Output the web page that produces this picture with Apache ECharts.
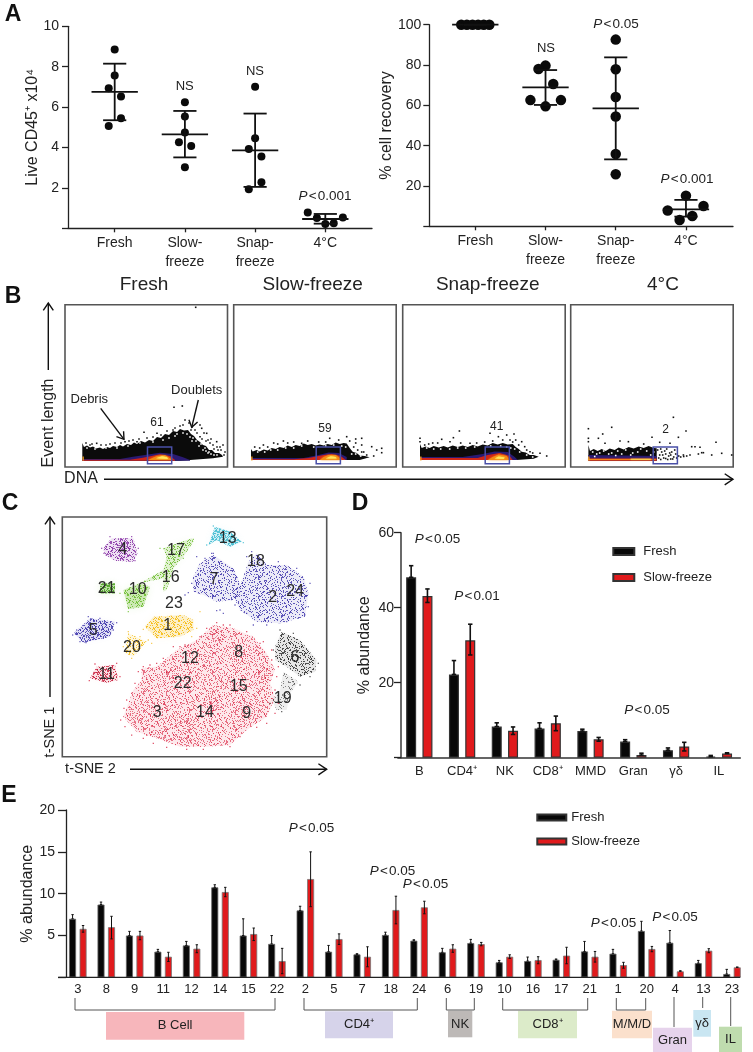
<!DOCTYPE html>
<html><head><meta charset="utf-8">
<style>html,body{margin:0;padding:0;background:#fff}#c{width:753px;height:1052px}</style>
<script src="https://cdn.jsdelivr.net/npm/echarts@6/dist/echarts.min.js"></script>
</head><body><div id="c"></div>
<script>
const FONT='"Liberation Sans",Arial,sans-serif', INK='#222';
// ---------- Panel A
const aCats=['Fresh','Slow-\nfreeze','Snap-\nfreeze','4°C'];
const liveDots=[[-0,8.85],[0,7.57],[-.085,6.93],[.09,6.52],[.09,5.45],[-.085,5.07],
 [1,6.24],[1,5.53],[1,4.74],[.915,4.26],[1.09,4.08],[1,3.02],
 [2,7.01],[2,4.46],[1.91,3.93],[2.09,3.55],[2.09,2.28],[1.91,1.93],
 [2.75,.78],[2.88,.51],[3.25,.54],[3,.21],[3.12,.25]];
const liveStats=[[0,6.75,5.35,8.15],[1,4.65,3.51,5.81],[2,3.86,2.05,5.68],[3,.46,.23,.71]];
const recDots=[[-.2,100],[-.12,100],[-.04,100],[.04,100],[.12,100],[.2,100],
 [1,79.7],[.9,78],[1.11,70.6],[.785,62.6],[1.22,62.6],[1,59.5],
 [2,92.6],[2,77.9],[2,64.1],[2,54.5],[2,35.9],[2,25.8],
 [3,15.2],[3.25,10.1],[2.74,7.8],[3.09,5.1],[2.91,3.1]];
const recStats=[[0,100,100,100],[1,68.9,60.2,77.5],[2,58.5,33.2,83.8],[3,8.4,4.8,13.1]];
// ---------- Panel B (event length vs DNA, read per box)
const flowTitles=['Fresh','Slow-freeze','Snap-freeze','4°C'];
const gateValues=[61,59,41,2];
const gate=[82.5,106.7,3.3,20];
const flowBlack=[
 [[17.3,24],[19,20],[22,21.5],[25,19.5],[28,20.5],[31,18.5],[35,19.5],[38,18],[42,20],[45,19],[48,21],[52,20],[55,22],[58,20.5],[62,23],[66,22],[69,24.5],[72,23],[76,26],[80,24.5],[84,27],[88,26],[92,30],[96,29],[100,33],[104,32],[108,36],[112,35],[115,38],[119,36.5],[123,37],[126,33],[129,31],[132,27],[135,25],[138,22],[141,21],[144,17],[147,17],[150,14],[154,14],[157,12],[158,10.3],[148,8.7],[135,7.7],[115,6.3],[17.3,6.3]],
 [[17.3,18],[19,15.5],[23,17],[26,15.5],[30,17.5],[34,16.5],[38,19],[42,18],[46,20],[50,19],[54,21.5],[58,20],[62,22],[66,21],[70,23.5],[74,22],[78,23],[82,21.5],[86,22.5],[90,21.5],[94,23],[98,22],[102,24.5],[106,23],[110,24],[113,23.5],[116,19],[119,15.3],[123,14],[126,11.5],[131,11],[136,9.7],[126,7],[113,7],[17.3,7]],
 [[17.3,23],[19,19],[23,20.5],[27,19],[31,21],[36,19.5],[41,21],[45,19.5],[50,21.5],[55,20],[60,21.5],[65,20],[70,22],[75,20.5],[80,22.5],[85,21.5],[90,24],[95,22.5],[100,24],[105,22.5],[110,23],[113,20],[116,18],[119,15.3],[123,14.5],[127,12],[131,12],[136,10.3],[131,8.3],[114,7],[17.3,7]],
 [[17.7,22],[19.3,16],[23,18],[27,16],[31,18],[35,16],[39,18.5],[44,17],[48,19.5],[53,17.5],[58,20],[63,18.5],[68,20.5],[73,19],[78,21],[83,19],[86,18.7],[86,6.3],[17.7,6.3]]];
const flowPurple=[
 [[17.3,6.3],[17.3,8],[55,8],[68,10.3],[95,14.3],[108,13],[118,9.7],[125,7],[125,6.3]],
 [[17.3,7],[17.3,9],[70,9],[85,12],[95,14.5],[105,14],[113,10],[113,7]],
 [[17.3,7],[17.3,10],[60,10],[80,13],[92,15.5],[105,15],[112,10],[115,7]],
 [[17.7,6.3],[17.7,12],[86,11],[86,6.3]]];
const flowRed=[
 [[17.3,6.3],[17.3,7.2],[65,7.2],[78,9.3],[95,12.7],[105,11],[110,7],[110,6.3]],
 [[17.3,7],[17.3,7.8],[60,7.8],[75,9],[90,12],[98,13],[107,11],[112,7]],
 [[17.3,7],[17.3,9],[75,9],[85,12],[97,14],[107,11],[110,7]],
 [[17.7,6.3],[17.7,8.5],[86,8.5],[86,6.3]]];
const flowOrange=[
 [[83,7],[92,11],[100,11.7],[105,8.7],[107,7]],
 [[86,7],[90,10],[95,12],[102,12],[106,9],[108,7]],
 [[85,7],[90,10],[96,12.5],[104,11],[106,8],[106,7]],
 [[17.7,7],[17.7,8],[85,8],[85,7.2]]];
const flowYellow=[
 [[91,8.7],[97,10.7],[102,9.7],[103,8]],
 [[92,8.5],[97,10.7],[102,10],[103,8.5]],
 [[92,8.5],[96,10.5],[102,9.5],[101,8]],
 [[60,7.4],[60,8.2],[80,8.2],[80,7.4]]];
const flowDots=[
 [[130.7,159.7],[109,59.7],[117.3,61],[79,34.7],[120,47],[135,42],[127,40],[130,37],[136.7,38.7],[141.7,33.7],[143,27],[148,22],[153,17],[158,22],[160,15],[151.7,25.3],[145,24],[135,30.3],[108,37],[92,33.7],[72,25.3],[60,25.3],[45,23],[31.7,23.7],[25,22],[139,34],[146,28],[155,20],[118,42],[124,44],[21,24],[27,23],[36,22],[41,22],[50,24],[56,24],[64,26],[68,27],[74,28],[82,29],[88,30],[96,32],[102,36],[110,39],[115,41],[126,37],[132,34],[137,28],[141,26],[149,18],[152,20],[156,17],[159,12]],
 [[128,28.7],[122,28],[113,30.3],[96,28.7],[68,23.7],[49.7,26],[29.7,22],[148,18.7],[148,14.3],[143,17],[138,20.3],[128,22],[133,12],[122,24],[105,27],[85,25],[60,25],[40,24],[130,15],[140,11],[21,20],[26,19],[34,20],[44,23],[54,24],[74,26],[92,25],[116,26],[120,20],[124,17],[128,15]],
 [[56.7,36],[50.7,29.3],[17.3,28.7],[17.3,25.3],[39,27.7],[87.3,33.7],[95.7,30.3],[104,32],[111.3,33],[119,25.3],[107.3,27],[122,20.3],[127.3,15.3],[144,11],[137.3,13.7],[67.3,23.7],[47.3,25.3],[100,27],[113,27],[30,24],[90,26],[22,22],[26,23],[35,24],[58,24],[74,24],[82,25],[110,25],[116,22],[124,17],[130,14]],
 [[102.7,49.7],[17.7,38.3],[41,39.7],[32,33],[81.3,29.7],[107.7,29.7],[115.3,36],[89,24.7],[17.7,28.7],[17.7,25.3],[27.7,28.7],[34.3,23.7],[49.3,26],[57.7,25.3],[73,23],[99.3,23.7],[121,20.3],[129.3,19.7],[145.3,24.7],[132.7,14.3],[141,12],[151,13.7],[161,12],[112.7,12],[119.3,12],[127.7,13],[131,14.3],[124.3,20.3],
  [87,17],[89,12],[91,15],[93,9],[95,13],[96,18],[98,11],[100,8],[101,15],[103,10],[104,17],[105,13],[88,9],[90,18],[92,12],[94,16],[97,7.5],[99,14],[102,8],[106,9],[90,7.5],[95,8.5],[100,12],[108,11],[110,10],[113,10.5],[116,11]]];
const flowSpecks=[
 [[22,19],[30,18],[41,19],[52,19],[63,21],[75,24],[88,25],[112,33],[122,33],[128,29],[131,26],[136,23],[140,19],[144,15],[149,12],[152,12],[143,14],[138,17],[125,30],[118,34],[110,31],[104,29],[98,27],[127,26],[134,21],[141,16],[146,13]],
 [[24,15],[37,17],[52,19],[68,21],[92,21],[108,21],[112,20],[118,13],[122,13],[127,11],[31,15],[44,17],[60,19],[80,20],[100,22]],
 [[24,19],[38,18],[55,19],[72,20],[88,21],[98,21],[104,20],[108,19],[112,18],[117,15],[124,12],[130,10],[31,18],[47,18],[63,19]],
 [[22,15],[26,13],[33,16],[41,14],[47,16],[55,17],[62,14],[70,18],[76,16],[83,15],[24,10.5],[45,11.5],[38,13],[60,12],[29,14],[51,13],[67,15],[80,12]]];
// ---------- Panel C (t-SNE clusters, outlines)
const redMain=[[370,680],[385,640],[400,600],[425,570],[425,535],[470,530],[530,480],[590,450],[640,405],[700,415],[760,440],[800,490],[825,540],[810,580],[825,625],[800,680],[740,720],[690,765],[620,770],[540,770],[470,745],[410,725]];
const redClumps=[[[385,660],[420,650],[430,690],[395,700]],[[520,680],[565,670],[575,710],[530,720]],[[640,420],[680,425],[670,460],[635,455]],[[700,490],[750,480],[755,520],[705,525]],[[450,640],[490,625],[505,660],[465,675]],[[590,500],[620,490],[630,530],[595,535]],[[490,540],[530,530],[540,565],[500,570]],[[660,560],[700,550],[705,590],[665,600]],[[610,620],[650,610],[660,660],[615,670]],[[720,640],[760,630],[775,680],[730,690]],[[770,540],[810,530],[810,570],[775,575]],[[450,720],[500,715],[510,750],[460,745]],[[540,700],[580,720],[575,760],[530,750]]];
const red11=[[270,565],[290,530],[345,525],[355,570],[320,578]];
const black6=[[825,470],[845,425],[900,450],[950,510],[945,545],[900,560],[860,530],[825,510]];
const black19=[[850,545],[895,575],[870,610],[860,660],[830,660],[815,630],[840,600]];
const blue2=[[720,290],[745,215],[770,190],[800,225],[860,225],[910,260],[925,310],[915,380],[840,400],[770,395],[720,360],[700,320]];
const blue7=[[578,265],[600,220],[640,195],[700,235],[725,290],[700,330],[650,335],[610,315],[580,305]];
const blue5=[[222,430],[270,385],[345,395],[330,440],[250,458]];
const purple4=[[310,175],[335,145],[400,145],[412,190],[400,215],[345,212],[315,195]];
const green10=[[370,300],[420,280],[450,290],[430,350],[385,358]];
const greenPath=[[420,280],[490,240],[500,200],[490,175],[575,145],[580,155],[550,200],[520,235],[500,300],[490,305],[490,265],[440,275]];
const green21=[[300,280],[345,280],[345,310],[300,310]];
const cyan13=[[625,165],[645,110],[690,125],[725,155],[690,170],[650,150]];
const yellow1=[[435,410],[460,380],[550,375],[580,390],[580,420],[540,440],[470,445]];
const yellow20=[[385,430],[440,455],[400,500],[375,490],[380,455]];
const edgeRed=[[362,690],[375,710],[395,735],[430,745],[460,760],[500,772],[560,778],[610,778],[690,770],[720,740],[770,712],[800,700],[825,670],[835,640],[825,600],[830,560],[835,530],[815,480],[790,455],[740,425],[670,405],[620,415],[600,440],[555,465],[520,470],[490,505],[450,525],[415,545],[405,580],[380,630],[430,530],[470,520],[540,470],[650,398],[690,405],[780,460],[815,510],[395,610],[372,655],[440,735],[268,572],[285,522],[350,520],[360,560]];
const edgeBlue=[[565,308],[555,315],[590,200],[640,190],[615,205],[660,360],[670,370],[650,362],[740,370],[760,405],[800,405],[860,395],[925,350],[930,280],[890,235],[835,215],[755,185],[740,200],[635,190],[725,340],[705,345],[575,280],[230,420],[218,435],[240,455],[265,380],[300,385],[350,398],[340,420],[310,445],[258,458]];
const edgePurple=[[305,175],[312,190],[330,140],[395,140],[415,175],[405,212]];
const edgeYellow=[[600,365],[590,415],[575,440],[430,418],[445,450],[455,460],[395,505],[385,425],[370,470],[420,440]];
const edgeGreen=[[480,175],[580,148],[550,205],[360,310],[385,365],[460,265]];
const edgeBlack=[[820,480],[840,420],[880,430],[955,520],[930,560],[880,575],[810,640],[845,665],[900,585]];
const edgeCyan=[[620,165],[640,108],[730,158]];
const clusterIds=[4,17,13,18,7,2,24,16,10,21,23,1,5,20,12,8,6,11,22,15,19,3,14,9];
const clusterX=[368,528,683,768,642,818,885,512,413,320,522,503,280,396,570,716,885,320,548,716,848,472,615,740];
const clusterY=[180,183,145,215,268,323,305,262,300,296,340,408,422,472,507,487,503,553,582,590,627,668,668,672];
// ---------- Panel D
const dCats=['B','CD4⁺','NK','CD8⁺','MMD','Gran','γδ','IL'];
const dFresh=[48.1,22.2,8.3,7.8,7.1,4.3,2,.3];
const dFreshHigh=[51.2,25.9,9.3,9.3,7.6,4.8,2.6,.6];
const dSlow=[43.1,31.3,7.2,9.2,4.9,.7,3,1.1];
const dSlowHigh=[45,35.6,8.2,11.1,5.4,1.2,4.1,1.3];
const dSlowLow=[41.4,27.4,6.2,7.2,4.4,.7,1.8,1.1];
// ---------- Panel E
const eCats=['3','8','9','11','12','14','15','22','2','5','7','18','24','6','19','10','16','17','21','1','20','4','13','23'];
const eFresh=[7,8.7,5,3.07,3.82,10.76,5,4,8,3.07,2.75,5.06,4.38,3,4.1,1.8,1.95,2.1,3.1,2.83,5.54,4.14,1.7,.4];
const eFreshHigh=[7.5,9,5.5,3.35,4.3,11.07,7,5,8.5,3.82,2.83,5.4,4.5,3.47,4.54,2.03,2.43,2.2,4.3,3.35,6.7,5.6,2.03,.96];
const eSlow=[5.8,6,5,2.47,3.43,10.2,5.18,1.95,11.75,4.58,2.47,8.05,8.37,3.43,3.98,2.47,2.07,2.6,2.47,1.47,3.39,.72,3.19,1.2];
const eSlowHigh=[6.2,7.3,5.5,3,3.9,10.76,5.9,3.47,15,5.2,3.66,9.7,9.1,3.9,4.18,2.7,2.47,3.6,3.1,1.8,3.7,.8,3.43,1.24];
const eSlowLow=[5.4,4.6,4.5,1.9,2.95,9.64,4.4,.44,8.45,3.94,1.27,6.4,7.6,3,3.78,2.27,1.63,1.63,1.83,1.1,3.07,.72,2.95,1.2];

// ---------- helpers
function txt(x,y,s,size,o={}){return {type:'text',x,y,rotation:o.rot||0,z:20,silent:true,style:Object.assign({text:s,fill:o.fill||INK,fontFamily:FONT,fontSize:size,fontWeight:o.weight||'normal',align:o.align||'center',verticalAlign:'middle'},o.style||{})}}
function pval(x,y,s,size=13.5){return txt(x,y,'{p|P}\u200a<\u200a'+s,size,{style:{rich:{p:{fontStyle:'italic',fontFamily:FONT,fontSize:size}}}})}
function seg(x1,y1,x2,y2,c=INK,w=1.3){return {type:'line',z:19,silent:true,shape:{x1,y1,x2,y2},style:{stroke:c,lineWidth:w}}}
function arrow(x1,y1,x2,y2,h=8,w=1.4){const a=Math.atan2(y2-y1,x2-x1),p=2.55;
 return [seg(x1,y1,x2,y2,'#111',w),{type:'polyline',z:19,silent:true,shape:{points:[[x2+h*Math.cos(a+p),y2+h*Math.sin(a+p)],[x2,y2],[x2+h*Math.cos(a-p),y2+h*Math.sin(a-p)]]},style:{stroke:'#111',lineWidth:w,fill:null}}]}
function poly(g,pts,fill,extra={}){return {type:'custom',coordinateSystem:'cartesian2d',xAxisIndex:g,yAxisIndex:g,data:pts,encode:{x:0,y:1},silent:true,z:extra.z||2,animation:false,
 renderItem:(p,api)=>p.dataIndex===0?{type:'polygon',shape:{points:pts.map(q=>api.coord(q))},style:Object.assign({fill},extra.style||{})}:null}}
// texture tiles for the t-SNE clouds
const TILE=[[3,7],[11,2],[19,9],[27,4],[35,12],[43,1],[51,8],[58,15],[6,18],[14,23],[22,16],[30,21],[38,27],[46,19],[54,25],[1,31],[9,36],[17,29],[25,34],[33,40],[41,33],[49,38],[57,44],[5,47],[13,42],[21,50],[29,45],[37,52],[45,48],[53,55],[2,58],[10,54],[18,59],[26,56],[34,49],[42,57],[50,51],[59,35],[7,26],[15,12],[23,6],[31,14],[39,20],[47,11],[55,3],[4,39],[12,32],[20,41],[28,26],[36,35],[44,42],[52,30],[60,22],[8,13],[16,5],[24,28],[32,24],[40,8],[48,17],[56,37],[3,23],[11,48],[19,37],[27,15],[35,31],[43,53],[51,43],[59,10],[6,44],[14,17]];
function tile(color,w,h){const c=document.createElement('canvas');c.width=w;c.height=h;const x=c.getContext('2d');x.fillStyle=color;TILE.forEach(d=>x.fillRect(d[0]%w,d[1]%h,1,1));return {image:c,repeat:'repeat'}}
function cloud(pts,color,tint,size=[[29,23],[23,19]]){return [poly(6,pts,tint,{style:{shadowBlur:7,shadowColor:tint}}),...size.map(s=>poly(6,pts,tile(color,s[0],s[1]),{z:3}))]}
function edge(data,color){return {type:'scatter',xAxisIndex:6,yAxisIndex:6,data,symbol:'rect',symbolSize:1.3,silent:true,z:3,itemStyle:{color,opacity:.75}}}
function statSeries(g,stats,halfMean=.33,halfCap=.165){return {type:'custom',coordinateSystem:'cartesian2d',xAxisIndex:g,yAxisIndex:g,data:stats,encode:{x:0,y:[1,2,3]},silent:true,z:5,
 renderItem:(p,api)=>{const x=api.value(0),m=api.value(1),lo=api.value(2),hi=api.value(3),st={stroke:'#111',lineWidth:1.8};
  const L=(a,b,c,d)=>{const s=api.coord([a,b]),e=api.coord([c,d]);return {type:'line',shape:{x1:s[0],y1:s[1],x2:e[0],y2:e[1]},style:st}};
  return {type:'group',children:[L(x-halfMean,m,x+halfMean,m),L(x,lo,x,hi),L(x-halfCap,lo,x+halfCap,lo),L(x-halfCap,hi,x+halfCap,hi)]}}}}
function errSeries(g,lows,highs,dx,cap,w){return {type:'custom',coordinateSystem:'cartesian2d',xAxisIndex:g,yAxisIndex:g,data:lows.map((v,i)=>[i,v,highs[i]]),encode:{x:0,y:[1,2]},silent:true,z:6,
 renderItem:(p,api)=>{const a=api.coord([api.value(0),api.value(1)]),b=api.coord([api.value(0),api.value(2)]),x=a[0]+dx,st={stroke:'#111',lineWidth:w};
  const L=(x1,y1,x2,y2)=>({type:'line',shape:{x1,y1,x2,y2},style:st});
  return {type:'group',children:[L(x,a[1],x,b[1]),L(x-cap,a[1],x+cap,a[1]),L(x-cap,b[1],x+cap,b[1])]}}}}
function barS(g,name,data,color,borderColor,barWidth,barGap,borderWidth){return {type:'bar',name,xAxisIndex:g,yAxisIndex:g,data,barWidth,barGap,silent:true,z:4,itemStyle:{color,borderColor,borderWidth}}}
const hide0=v=>v===0?'':v;
function valueX(g,min,max,margin){return {gridIndex:g,type:'value',min,max,splitLine:{show:false},axisLine:{onZero:false,lineStyle:{color:'#222',width:1.3}},axisTick:{length:4,customValues:[0,1,2,3],lineStyle:{color:'#222',width:1.3}},axisLabel:{customValues:[0,1,2,3],formatter:v=>aCats[v]||'',color:INK,fontFamily:FONT,fontSize:14,lineHeight:19,margin}}}
function valueY(g,max,iv,name,gap,margin,len=6){return {gridIndex:g,type:'value',min:0,max,interval:iv,name,nameLocation:'middle',nameGap:gap,nameMoveOverlap:false,nameRotate:90,nameTextStyle:{color:INK,fontFamily:FONT,fontSize:16},splitLine:{show:false},axisLine:{show:true,onZero:false,lineStyle:{color:'#222',width:1.3}},axisTick:{show:true,length:len,lineStyle:{color:'#222',width:1.3}},axisLabel:{formatter:hide0,color:INK,fontFamily:FONT,fontSize:14,margin}}}
function hiddenAxis(g,min,max,inverse){return {gridIndex:g,type:'value',min,max,inverse:!!inverse,show:false,splitLine:{show:false}}}

// ---------- grids
const flowLeft=[65,233.7,402.7,570.7];
const grids=[
 {left:68,top:26.3,width:304,height:202},
 {left:429.3,top:24.7,width:303.7,height:201.6},
 ...flowLeft.map(l=>({left:l,top:304.7,width:162.5,height:162.3,show:true,borderColor:'#555',borderWidth:1.6,backgroundColor:'#fff'})),
 {left:62.3,top:517,width:264.4,height:239.7,show:true,borderColor:'#555',borderWidth:1.6,backgroundColor:'#fff'},
 {left:397.9,top:532.7,width:342.4,height:225},
 {left:63.6,top:810,width:682.6,height:167.4}
];
const xAxes=[valueX(0,-.665,3.665,5),valueX(1,-.655,3.67,5),
 ...[2,3,4,5].map(g=>hiddenAxis(g,0,162.5)),hiddenAxis(6,187,980),
 {gridIndex:7,type:'category',data:dCats,axisLine:{lineStyle:{color:'#333',width:1.5}},axisTick:{alignWithLabel:true,length:4,lineStyle:{color:'#333',width:1.3}},axisLabel:{interval:0,color:INK,fontFamily:FONT,fontSize:13,margin:7}},
 {gridIndex:8,type:'category',data:eCats,axisLine:{show:false},axisTick:{alignWithLabel:true,length:3.5,lineStyle:{color:'#333',width:1}},axisLabel:{interval:0,color:INK,fontFamily:FONT,fontSize:13,margin:6}}];
const yAxes=[valueY(0,10,2,'Live CD45⁺ x10⁴',27,9),valueY(1,100,20,'% cell recovery',34.6,8),
 ...[2,3,4,5].map(g=>hiddenAxis(g,0,162.3)),hiddenAxis(6,81,800,true),
 Object.assign(valueY(7,60,20,'% abundance',28,7,7),{offset:-3.1}),
 Object.assign(valueY(8,20,5,'% abundance',30,11,8),{offset:-2.4})];
yAxes[7].axisLine.lineStyle={color:'#444',width:1.6};

// ---------- series
const series=[];
series.push(statSeries(0,liveStats),{type:'scatter',xAxisIndex:0,yAxisIndex:0,data:liveDots,symbolSize:8,silent:true,z:4,itemStyle:{color:'#0a0a0a',opacity:1}});
series.push(statSeries(1,recStats),{type:'scatter',xAxisIndex:1,yAxisIndex:1,data:recDots,symbolSize:10.5,silent:true,z:4,itemStyle:{color:'#0a0a0a',opacity:1}});
[0,1,2,3].forEach(i=>{const g=i+2;
 series.push(poly(g,flowBlack[i],'#0b0b0b',{z:2}),
  poly(g,flowPurple[i],'#2a1a72',{z:3}),
  poly(g,flowRed[i],'#cf2417',{z:3}),
  poly(g,flowOrange[i],'#f58a14',{z:3,style:{shadowBlur:2,shadowColor:'#f58a14'}}),
  poly(g,flowYellow[i],'#ffe85a',{z:3,style:{shadowBlur:1.5,shadowColor:'#ffe85a'}}),
  poly(g,[[17.5,6.5],[18.8,6.5],[18.8,10.5],[17.5,10.5]],'#f5a020',{z:3}),
  {type:'scatter',xAxisIndex:g,yAxisIndex:g,data:flowDots[i],symbol:'rect',symbolSize:1.6,silent:true,z:4,itemStyle:{color:'#111',opacity:1}},
  {type:'scatter',xAxisIndex:g,yAxisIndex:g,data:flowSpecks[i],symbol:'rect',symbolSize:1.6,silent:true,z:4,itemStyle:{color:'#fff',opacity:1}},
  {type:'custom',coordinateSystem:'cartesian2d',xAxisIndex:g,yAxisIndex:g,data:[gate],encode:{x:[0,1],y:[2,3]},silent:true,z:5,
   renderItem:(p,api)=>{const a=api.coord([gate[0],gate[3]]),b=api.coord([gate[1],gate[2]]);return {type:'rect',shape:{x:a[0],y:a[1],width:b[0]-a[0],height:b[1]-a[1]},style:{fill:'rgba(0,0,0,0)',stroke:'#4a50a8',lineWidth:1.5}}}});
});
const RED='rgba(216,28,60,.6)';
series.push(
 ...cloud(redMain,RED,'rgba(235,90,110,.12)'),
 ...redClumps.map(c=>poly(6,c,tile('rgba(210,25,55,.45)',23,17),{z:3})),
 ...cloud(red11,'rgba(200,30,60,.8)','rgba(225,80,100,.16)',[[17,13],[23,19]]),
 ...cloud(black6,'rgba(30,30,30,.75)','rgba(70,70,70,.12)',[[23,19],[29,23]]),
 ...cloud(black19,'rgba(60,60,60,.6)','rgba(110,110,110,.10)',[[29,23],[41,37]]),
 ...cloud(blue2,'rgba(60,50,170,.8)','rgba(90,80,190,.10)',[[23,19],[31,29]]),
 ...cloud(blue7,'rgba(60,50,170,.8)','rgba(90,80,190,.10)',[[23,19],[31,29]]),
 ...cloud(blue5,'rgba(60,50,170,.8)','rgba(90,80,190,.16)',[[17,13],[23,19]]),
 ...cloud(purple4,'rgba(130,40,160,.75)','rgba(150,70,180,.14)',[[17,13],[23,19]]),
 ...cloud(green10,'rgba(110,190,50,.9)','rgba(130,200,70,.34)',[[17,13]]),
 ...cloud(greenPath,'rgba(110,190,50,.85)','rgba(130,200,70,.22)',[[17,13]]),
 ...cloud(green21,'rgba(90,170,50,1)','rgba(110,185,60,.4)',[[11,9]]),
 ...cloud(cyan13,'rgba(70,190,210,.85)','rgba(100,205,225,.28)',[[11,9]]),
 ...cloud(yellow1,'rgba(245,190,30,.95)','rgba(248,210,90,.28)',[[17,13]]),
 ...cloud(yellow20,'rgba(245,190,30,.85)','rgba(248,210,90,.18)',[[17,13]]),
 edge(edgeRed,'#d81c3c'),edge(edgeBlue,'#3c32aa'),edge(edgePurple,'#8228a0'),edge(edgeYellow,'#f5be28'),edge(edgeGreen,'#6ebe32'),edge(edgeBlack,'#333'),edge(edgeCyan,'#46bed2'),
 {type:'scatter',xAxisIndex:6,yAxisIndex:6,data:clusterIds.map((id,i)=>[clusterX[i],clusterY[i],id]),symbolSize:1,silent:true,z:8,itemStyle:{color:'rgba(0,0,0,0)',opacity:1},
  label:{show:true,position:'inside',formatter:p=>p.value[2],color:'#2a2a2a',fontFamily:FONT,fontSize:16,opacity:1}});
series.push(barS(7,'Fresh',dFresh,'#080808','#333',10,'63%',1.2),barS(7,'Slow-freeze',dSlow,'#e01a1c','#333',10,'63%',1.2),
 errSeries(7,dFresh,dFreshHigh,-8.15,2.2,1.6),errSeries(7,dSlowLow,dSlowHigh,8.15,2.2,1.6));
series.push(barS(8,'Fresh',eFresh,'#080808','#666',7,'50%',.8),barS(8,'Slow-freeze',eSlow,'#e01a1c','#777',7,'50%',.8),
 errSeries(8,eFresh,eFreshHigh,-5.25,1.2,1),errSeries(8,eSlowLow,eSlowHigh,5.25,1.2,1));

// ---------- annotations
const g=[];
[['A',13,15],['B',13,297],['C',10,504],['D',360,504],['E',9,796]].forEach(a=>g.push(txt(a[1],a[2],a[0],23,{weight:'bold',fill:'#111'})));
g.push(txt(184.7,86,'NS',13),txt(255,71,'NS',13),pval(325,196,'0.001'));
g.push(txt(546,48,'NS',13),pval(616,24,'0.05'),pval(687,179,'0.001'));
[144,312.7,487.7,663].forEach((x,i)=>g.push(txt(x,285,flowTitles[i],19)));
[[157,422.7],[325,428.7],[496.7,426.7],[665.7,430]].forEach((p,i)=>g.push(txt(p[0],p[1],String(gateValues[i]),12)));
g.push(txt(89.3,399.3,'Debris',13),txt(196.7,390,'Doublets',13));
g.push(...arrow(100.7,408.3,124,439.3,8),...arrow(198.3,400,191.7,427.3,8));
g.push(txt(49,423,'Event length',16,{rot:Math.PI/2}),txt(81,479,'DNA',16));
g.push(...arrow(48.3,370,48.3,303,9),...arrow(104,479.3,733,479.3,10));
g.push(txt(50,732,'t-SNE 1',14.5,{rot:Math.PI/2}),txt(90.5,769,'t-SNE 2',14.5));
g.push(...arrow(50,697,50,517,9),...arrow(130,769.3,326.7,769.3,10));
g.push(pval(437.5,539,'0.05'),pval(477,596.7,'0.01'),pval(647,710,'0.05'));
g.push(pval(311.5,828.7,'0.05'),pval(392.5,871,'0.05'),pval(425.5,884.7,'0.05'),pval(613.5,923.7,'0.05'),pval(675,917,'0.05'));
g.push(seg(58.3,977.3,740.3,977.3,'#222',1.3));
const BR='#555';
[[75,275],[304,417.3],[446.3,474.3],[502.7,587.7],[616.3,645.7]].forEach(b=>g.push({type:'polyline',z:19,silent:true,shape:{points:[[b[0],998],[b[0],1010],[b[1],1010],[b[1],998]]},style:{stroke:BR,lineWidth:1,fill:null}}));
g.push(seg(674,997,674,1027,BR,1),seg(702.7,997,702.7,1008,BR,1),seg(730.7,997,730.7,1026,BR,1));
[['B Cell',106,1012,138.3,27.7,'#f7b6bb'],['CD4⁺',325,1011.3,68,27,'#d6d3ea'],['NK',448,1010.7,24.3,26.6,'#bdb9b7'],['CD8⁺',518,1010.7,59,27.6,'#dcebc9'],['M/M/D',612,1010.7,40,27.6,'#fbe0cc'],['Gran',653,1027.7,39,25,'#e6d3ec'],['γδ',693.3,1010,17.7,26.7,'#c9e6f2'],['IL',719,1026.7,23,25.3,'#bfdcae']].forEach(b=>{
 g.push({type:'rect',z:18,silent:true,shape:{x:b[1],y:b[2],width:b[3],height:b[4]},style:{fill:b[5]}},txt(b[1]+b[3]/2,b[2]+b[4]/2,b[0],13));});

const legendBase={orient:'vertical',icon:'rect',selectedMode:false,data:['Fresh','Slow-freeze'],padding:0};
const chart=echarts.init(document.getElementById('c'),null,{renderer:'canvas'});
chart.setOption({animation:false,backgroundColor:'#fff',grid:grids,xAxis:xAxes,yAxis:yAxes,series,graphic:{elements:g},
 legend:[Object.assign({},legendBase,{left:612.3,top:545,itemWidth:21,itemHeight:7,itemGap:13,textStyle:{color:INK,fontFamily:FONT,fontSize:13,padding:[0,0,0,4]}}),
         Object.assign({},legendBase,{left:536.3,top:811,itemWidth:29,itemHeight:6,itemGap:11,textStyle:{color:INK,fontFamily:FONT,fontSize:13}})]});
</script></body></html>
